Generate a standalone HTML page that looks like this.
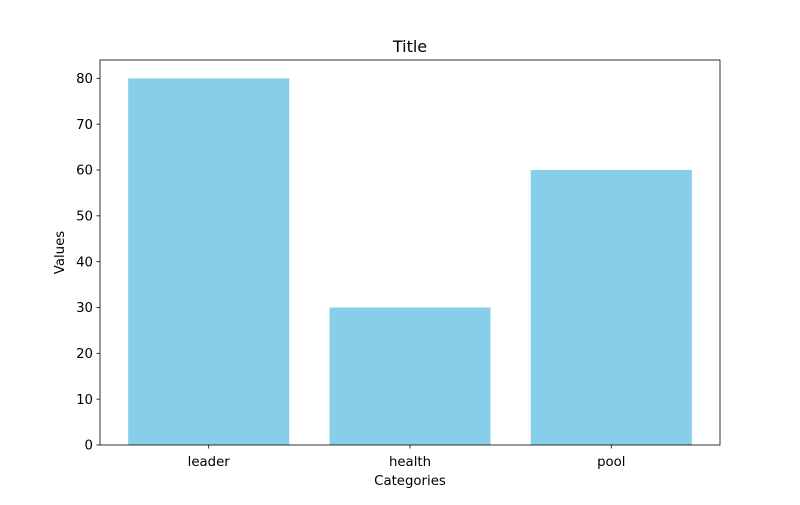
<!DOCTYPE html>
<html><head><meta charset="utf-8"><style>
html,body{margin:0;padding:0;background:#fff}
svg text{font-family:"DejaVu Sans","Liberation Sans",sans-serif;fill:#000}
</style></head><body>
<svg id="chart" width="800" height="500" xmlns="http://www.w3.org/2000/svg">
<rect width="800" height="500" fill="#fff"/>
<g id="plot"></g>
</svg>
<script>
const categories = ["leader", "health", "pool"];
const values = [80, 30, 60];
const yTicks = [0, 10, 20, 30, 40, 50, 60, 70, 80];

const L = 100, R = 720, T = 60, B = 445;
const yMax = Math.max(...values) * 1.05;
const xMin = -0.4 - 0.05 * (categories.length - 0.2), xMax = categories.length - 0.6 + 0.05 * (categories.length - 0.2);
const xs = v => L + (v - xMin) / (xMax - xMin) * (R - L);
const ys = v => B - v / yMax * (B - T);
const NS = "http://www.w3.org/2000/svg";
const g = document.getElementById('plot');
function mk(tag, attrs, text) {
  const e = document.createElementNS(NS, tag);
  for (const k in attrs) e.setAttribute(k, attrs[k]);
  if (text !== undefined) e.textContent = text;
  g.appendChild(e);
  return e;
}
categories.forEach((c, i) => {
  const x0 = xs(i - 0.4), x1 = xs(i + 0.4);
  const b = mk('rect', {x: x0, y: ys(values[i]), width: x1 - x0, height: B - ys(values[i]), fill: '#87ceeb'});
  
  
  const t = mk('line', {x1: xs(i), x2: xs(i), y1: B, y2: B + 3.5, stroke: '#000', 'stroke-width': 0.8});
  
  
  const l = mk('text', {x: xs(i), y: B + 21, 'font-size': 13.3, 'text-anchor': 'middle'}, c);
  
  
});
yTicks.forEach(v => {
  const t = mk('line', {x1: L - 3.5, x2: L, y1: ys(v), y2: ys(v), stroke: '#000', 'stroke-width': 0.8});
  
  
  const l = mk('text', {x: L - 7, y: ys(v) + 4.7, 'font-size': 13.3, 'text-anchor': 'end'}, v);
  
  
});
const frame = mk('rect', {x: L, y: T, width: R - L, height: B - T, fill: 'none', stroke: '#000', 'stroke-width': 0.8});


const title = mk('text', {x: (L + R) / 2, y: T - 8, 'font-size': 16, 'text-anchor': 'middle'}, 'Title');


const xt = mk('text', {x: (L + R) / 2, y: 485, 'font-size': 13.3, 'text-anchor': 'middle'}, 'Categories');


const yt = mk('text', {x: 64, y: (T + B) / 2, 'font-size': 13.3, 'text-anchor': 'middle', transform: 'rotate(-90 64 ' + (T + B) / 2 + ')'}, 'Values');


</script>
</body></html>
